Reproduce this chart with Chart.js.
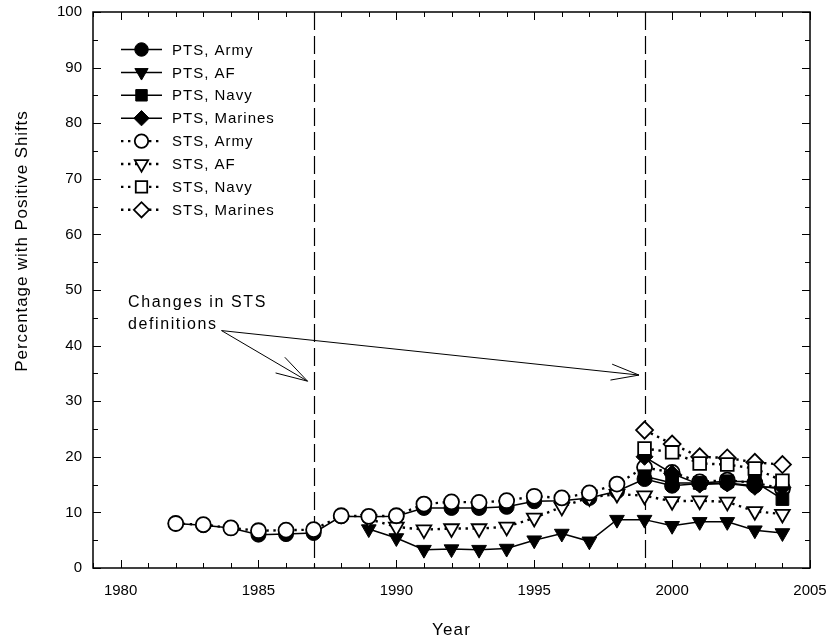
<!DOCTYPE html>
<html>
<head>
<meta charset="utf-8">
<script src="https://cdn.jsdelivr.net/npm/chart.js@4.4.0/dist/chart.umd.min.js"></script>
<style>
  html, body { margin: 0; padding: 0; background: #fff; }
  #wrap { width: 830px; height: 642px; }
</style>
</head>
<body>
<div id="wrap"><canvas id="shiftChart"></canvas></div>
<script>
// years on the x axis
var years = [1982,1983,1984,1985,1986,1987,1988,1989,1990,1991,1992,1993,1994,1995,1996,1997,1998,1999,2000,2001,2002,2003,2004];

// percentage with positive shifts
var ptsArmy    = [8.0,7.7,7.2,6.0,6.1,6.3,9.3,9.2,9.3,10.8,10.8,10.8,11.0,12.0,12.1,12.6,13.8,16.0,14.8,15.2,15.3,14.8,14.2];
var ptsAF      = [null,null,null,null,null,null,null,7.0,5.4,3.3,3.4,3.3,3.5,5.0,6.2,4.8,8.7,8.7,7.6,8.3,8.3,6.8,6.3];
var ptsNavy    = [null,null,null,null,null,null,null,null,null,null,null,null,null,null,null,null,null,16.5,15.3,15.3,15.6,15.5,12.4];
var ptsMarines = [null,null,null,null,null,null,null,null,null,null,null,null,null,null,null,null,null,20.0,17.0,15.0,15.2,14.6,14.5];
var stsArmy    = [8.0,7.8,7.2,6.7,6.8,6.9,9.4,9.3,9.4,11.5,11.9,11.8,12.1,12.9,12.6,13.5,15.1,18.1,17.2,15.5,15.8,15.3,14.3];
var stsAF      = [null,null,null,null,null,null,null,8.8,7.4,6.9,7.1,7.1,7.4,9.0,11.0,12.7,13.3,13.0,12.0,12.1,11.9,10.2,9.7];
var stsNavy    = [null,null,null,null,null,null,null,null,null,null,null,null,null,null,null,null,null,21.5,20.8,18.8,18.6,17.9,15.7];
var stsMarines = [null,null,null,null,null,null,null,null,null,null,null,null,null,null,null,null,null,24.8,22.3,20.0,19.8,19.0,18.6];

var xTickYears = [1980,1985,1990,1995,2000,2005];
var changeYears = [1987,1999];

var FONT = "'Liberation Sans', Arial, sans-serif";

function pts(values) {
  return values.map(function(v, i){ return {x: years[i], y: v}; });
}

function series(label, values, style, rotation, filled, radius, order) {
  return {
    label: label,
    data: pts(values),
    borderColor: '#000',
    borderWidth: filled ? 1.5 : 2.4,
    borderDash: filled ? [] : [2.4, 4.6],
    pointStyle: style,
    pointRotation: rotation,
    pointRadius: radius,
    pointBackgroundColor: filled ? '#000' : '#fff',
    pointBorderColor: '#000',
    pointBorderWidth: filled ? 1 : 1.8,
    spanGaps: false,
    tension: 0,
    order: order,
    filled: filled
  };
}

var datasets = [
  series('PTS, Army',    ptsArmy,    'circle',  0,   true,  7.5, 3),
  series('PTS, AF',      ptsAF,      'triangle',180, true,  8.5, 3),
  series('PTS, Navy',    ptsNavy,    'rect',    0,   true,  9, 1),
  series('PTS, Marines', ptsMarines, 'rectRot', 0,   true,  8.5, 1),
  series('STS, Army',    stsArmy,    'circle',  0,   false, 7.5, 2),
  series('STS, AF',      stsAF,      'triangle',180, false, 8.5, 2),
  series('STS, Navy',    stsNavy,    'rect',    0,   false, 9, 0),
  series('STS, Marines', stsMarines, 'rectRot', 0,   false, 8.5, 0)
];

// box frame with inward ticks plus the two dashed lines
var framePlugin = {
  id: 'frame',
  beforeDatasetsDraw: function(chart) {
    var ctx = chart.ctx, a = chart.chartArea;
    var xs = chart.scales.x, ys = chart.scales.y;
    ctx.save();
    ctx.strokeStyle = '#000';
    ctx.lineWidth = 1.2;
    ctx.setLineDash([18, 6]);
    changeYears.forEach(function(yr){
      var px = Math.round(xs.getPixelForValue(yr)) + 0.5;
      ctx.beginPath(); ctx.moveTo(px, a.top); ctx.lineTo(px, a.bottom); ctx.stroke();
    });
    ctx.setLineDash([]);
    ctx.lineWidth = 1.5;
    ctx.strokeRect(a.left, a.top, a.right - a.left, a.bottom - a.top);
    ctx.lineWidth = 1;
    for (var yr = 1979; yr <= 2005; yr++) {
      var px = Math.round(xs.getPixelForValue(yr)) + 0.5;
      var len = yr % 5 === 0 ? 8 : 5;
      ctx.beginPath();
      ctx.moveTo(px, a.bottom); ctx.lineTo(px, a.bottom - len);
      ctx.moveTo(px, a.top); ctx.lineTo(px, a.top + len);
      ctx.stroke();
    }
    for (var v = 0; v <= 100; v += 5) {
      var py = Math.round(ys.getPixelForValue(v)) + 0.5;
      var l2 = v % 10 === 0 ? 8 : 5;
      ctx.beginPath();
      ctx.moveTo(a.left, py); ctx.lineTo(a.left + l2, py);
      ctx.moveTo(a.right, py); ctx.lineTo(a.right - l2, py);
      ctx.stroke();
    }
    ctx.restore();
  }
};

function arrow(ctx, x0, y0, x1, y1, headLen) {
  var ang = Math.atan2(y0 - y1, x0 - x1);
  var spread = 16 * Math.PI / 180;
  ctx.beginPath();
  ctx.moveTo(x0, y0); ctx.lineTo(x1, y1);
  ctx.moveTo(x1 + headLen * Math.cos(ang + spread), y1 + headLen * Math.sin(ang + spread));
  ctx.lineTo(x1, y1);
  ctx.lineTo(x1 + headLen * Math.cos(ang - spread), y1 + headLen * Math.sin(ang - spread));
  ctx.stroke();
}

// legend box, axis titles and the annotation with arrows
var notesPlugin = {
  id: 'notes',
  afterDatasetsDraw: function(chart) {
    var ctx = chart.ctx;
    var xs = chart.scales.x, ys = chart.scales.y;
    ctx.save();

    // legend
    ctx.font = '15px ' + FONT;
    ctx.letterSpacing = '1px';
    ctx.textBaseline = 'middle';
    ctx.fillStyle = '#000';
    var top = 49.5, step = 22.9;
    datasets.forEach(function(ds, i){
      var y = top + i * step;
      ctx.strokeStyle = '#000';
      ctx.lineWidth = ds.filled ? 1.5 : 2.4;
      ctx.setLineDash(ds.filled ? [] : [2.4, 4.6]);
      ctx.beginPath(); ctx.moveTo(121, y); ctx.lineTo(162, y); ctx.stroke();
      ctx.setLineDash([]);
      ctx.fillStyle = ds.filled ? '#000' : '#fff';
      ctx.lineWidth = ds.pointBorderWidth;
      Chart.helpers.drawPoint(ctx, {
        pointStyle: ds.pointStyle, rotation: ds.pointRotation,
        radius: ds.pointRadius * 0.9, borderWidth: ds.pointBorderWidth
      }, 141.5, y);
      ctx.fillStyle = '#000';
      ctx.fillText(ds.label, 172, y + 1);
    });

    // annotation text
    ctx.font = '16px ' + FONT;
    ctx.letterSpacing = '1.6px';
    ctx.textBaseline = 'middle';
    ctx.fillText('Changes in STS', xs.getPixelForValue(1980.27), ys.getPixelForValue(47.7));
    ctx.fillText('definitions', xs.getPixelForValue(1980.27), ys.getPixelForValue(43.7));

    ctx.strokeStyle = '#000';
    ctx.lineWidth = 1;
    var ox = xs.getPixelForValue(1983.66), oy = ys.getPixelForValue(42.7);
    arrow(ctx, ox, oy, xs.getPixelForValue(1986.78), ys.getPixelForValue(33.6), 33);
    arrow(ctx, ox, oy, xs.getPixelForValue(1998.8), ys.getPixelForValue(34.7), 29);

    // axis titles
    ctx.font = '17px ' + FONT;
    ctx.letterSpacing = '1.2px';
    ctx.textAlign = 'center';
    ctx.fillText('Year', (chart.chartArea.left + chart.chartArea.right) / 2, 630);
    ctx.translate(22, 241);
    ctx.rotate(-Math.PI / 2);
    ctx.letterSpacing = '0.9px';
    ctx.fillText('Percentage with Positive Shifts', 0, 0);
    ctx.restore();
  }
};

var ctx = document.getElementById('shiftChart').getContext('2d');
var shiftChart = new Chart(ctx, {
  type: 'line',
  data: { datasets: datasets },
  options: {
    responsive: true,
    maintainAspectRatio: false,
    animation: false,
    layout: { padding: { top: 12, right: 20, left: 0, bottom: 0 } },
    plugins: { legend: { display: false }, tooltip: { enabled: false } },
    scales: {
      x: {
        type: 'linear',
        min: 1979,
        max: 2005,
        grid: { display: false },
        border: { display: false },
        afterBuildTicks: function(s){ s.ticks = xTickYears.map(function(v){ return {value: v}; }); },
        afterFit: function(s){ s.height = 74; s.paddingLeft = 0; s.paddingRight = 0; },
        ticks: {
          color: '#000',
          padding: 6,
          maxRotation: 0,
          autoSkip: false,
          font: { family: FONT, size: 15 },
          callback: function(v){ return String(v); }
        }
      },
      y: {
        min: 0,
        max: 100,
        grid: { display: false },
        border: { display: false },
        afterFit: function(s){ s.width = 93; s.paddingTop = 0; s.paddingBottom = 0; },
        ticks: {
          stepSize: 10,
          color: '#000',
          padding: 3,
          font: { family: FONT, size: 15 }
        }
      }
    }
  },
  plugins: [framePlugin, notesPlugin]
});
</script>
</body>
</html>
